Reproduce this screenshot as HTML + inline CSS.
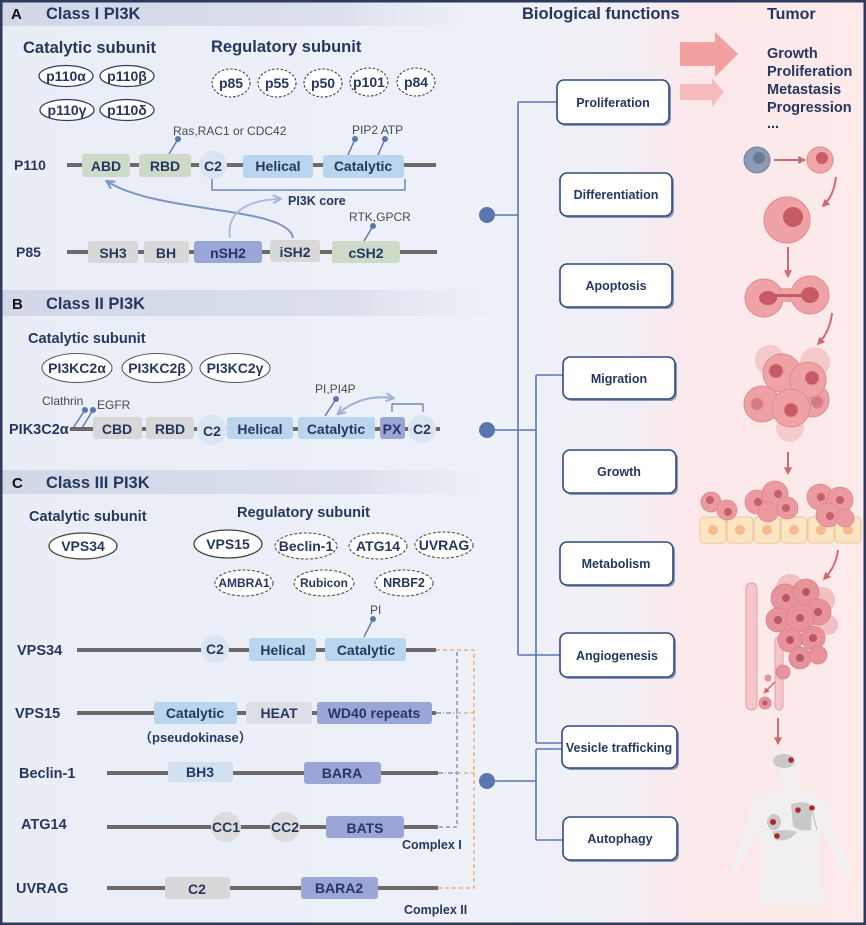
<!DOCTYPE html>
<html><head><meta charset="utf-8">
<style>
html,body{margin:0;padding:0;}
body{width:866px;height:925px;overflow:hidden;background:#eef1f8;}
svg{display:block;}
text{font-family:"Liberation Sans",Arial,sans-serif;}
.t{fill:#26375f;font-weight:bold;}
.bx{font-size:14px;font-weight:bold;fill:#26375f;text-anchor:middle;}
.sm{font-size:12px;fill:#4a4a4a;}
.fn{font-size:12.5px;font-weight:bold;fill:#26375f;text-anchor:middle;}
.bb{stroke:#6d6969;stroke-width:4;}
.pin{stroke:#5a76b0;stroke-width:1.4;}
</style></head><body>
<svg width="866" height="925" viewBox="0 0 866 925" xmlns="http://www.w3.org/2000/svg">
<defs>
<linearGradient id="bg" x1="0" x2="1" y1="0" y2="0">
 <stop offset="0" stop-color="#e9edf6"/>
 <stop offset="0.6" stop-color="#eef1f8"/>
 <stop offset="0.72" stop-color="#f1eff6"/>
 <stop offset="0.80" stop-color="#fbe8ea"/>
 <stop offset="1" stop-color="#fdeaea"/>
</linearGradient>
<linearGradient id="band" x1="0" x2="1" y1="0" y2="0">
 <stop offset="0" stop-color="#d1d7e6"/>
 <stop offset="0.7" stop-color="#dbe0ec"/>
 <stop offset="1" stop-color="#e4e8f2" stop-opacity="0"/>
</linearGradient>
<marker id="mb" viewBox="0 0 10 10" refX="7" refY="5" markerWidth="5" markerHeight="5" orient="auto-start-reverse">
 <path d="M1,1 L9,5 L1,9" fill="none" stroke="#7c95c6" stroke-width="2"/>
</marker>
<marker id="mb2" viewBox="0 0 10 10" refX="7" refY="5" markerWidth="5" markerHeight="5" orient="auto-start-reverse">
 <path d="M1,1 L9,5 L1,9" fill="none" stroke="#9fb3da" stroke-width="2"/>
</marker>
<marker id="mr" viewBox="0 0 10 10" refX="6" refY="5" markerWidth="4" markerHeight="4" orient="auto">
 <path d="M0,0 L10,5 L0,10 z" fill="#cf6a70"/>
</marker>
</defs>

<rect x="0" y="0" width="866" height="925" fill="url(#bg)"/>

<!-- Section bands -->
<rect x="2" y="2" width="480" height="24" fill="url(#band)"/>
<rect x="2" y="290" width="500" height="26" fill="url(#band)"/>
<rect x="2" y="470" width="500" height="24" fill="url(#band)"/>

<!-- ========== A ========== -->
<text x="11" y="19" font-size="15" font-weight="bold" fill="#111">A</text>
<text x="46" y="19" class="t" font-size="16.5">Class I PI3K</text>
<text x="23" y="53" class="t" font-size="16.5">Catalytic subunit</text>
<text x="211" y="52" class="t" font-size="16.5">Regulatory subunit</text>

<g fill="#fff" stroke="#2c3f66" stroke-width="1.3">
 <ellipse cx="66" cy="76" rx="27" ry="10.5"/>
 <ellipse cx="127" cy="76" rx="27" ry="10.5"/>
 <ellipse cx="67" cy="110" rx="27" ry="10.5"/>
 <ellipse cx="127" cy="110" rx="27" ry="10.5"/>
</g>
<text x="66" y="81" class="bx">p110α</text>
<text x="127" y="81" class="bx">p110β</text>
<text x="67" y="115" class="bx">p110γ</text>
<text x="127" y="115" class="bx">p110δ</text>
<g fill="#fff" stroke="#3a3f4a" stroke-width="1.1" stroke-dasharray="2.5 1.8">
 <ellipse cx="231" cy="83" rx="19" ry="14"/>
 <ellipse cx="277" cy="83" rx="19" ry="14"/>
 <ellipse cx="323" cy="83" rx="19" ry="14"/>
 <ellipse cx="369" cy="82" rx="19" ry="14"/>
 <ellipse cx="416" cy="82" rx="19" ry="14"/>
</g>
<text x="231" y="88" class="bx">p85</text>
<text x="277" y="88" class="bx">p55</text>
<text x="323" y="88" class="bx">p50</text>
<text x="369" y="87" class="bx">p101</text>
<text x="416" y="87" class="bx">p84</text>

<!-- P110 row -->
<text x="14" y="170" class="t" font-size="14">P110</text>
<line x1="67" y1="165" x2="436" y2="165" class="bb"/>
<text x="173" y="135" class="sm">Ras,RAC1 or CDC42</text>
<line x1="178" y1="139" x2="169" y2="154" class="pin"/><circle cx="178" cy="139" r="3" fill="#5a76b0"/>
<text x="352" y="134" class="sm">PIP2 ATP</text>
<line x1="355" y1="139" x2="348" y2="155" class="pin"/><circle cx="355" cy="139" r="3" fill="#5a76b0"/>
<line x1="385" y1="139" x2="378" y2="155" class="pin"/><circle cx="385" cy="139" r="3" fill="#5a76b0"/>
<rect x="82" y="154" width="48" height="23" rx="3" fill="#cddac7"/>
<rect x="139" y="154" width="52" height="23" rx="3" fill="#cddac7"/>
<circle cx="213" cy="165" r="14" fill="#dbe4f1"/>
<rect x="243" y="155" width="70" height="23" rx="3" fill="#b9d6ee"/>
<rect x="323" y="155" width="81" height="23" rx="3" fill="#b9d6ee"/>
<text x="106" y="171" class="bx">ABD</text>
<text x="165" y="171" class="bx">RBD</text>
<text x="213" y="171" class="bx">C2</text>
<text x="278" y="171" class="bx">Helical</text>
<text x="363" y="171" class="bx">Catalytic</text>
<path d="M212,179 V190 H405 V179" fill="none" stroke="#5a77b0" stroke-width="1.3"/>
<text x="288" y="205" class="t" font-size="12.5">PI3K core</text>

<!-- arrows A -->
<path d="M293,238 C288,206 160,214 108,182" fill="none" stroke="#7c95c6" stroke-width="2" marker-end="url(#mb)"/>
<path d="M230,238 C226,212 248,200 279,199" fill="none" stroke="#a9bde0" stroke-width="2" marker-end="url(#mb2)"/>

<!-- P85 row -->
<text x="16" y="257" class="t" font-size="14">P85</text>
<line x1="67" y1="252" x2="437" y2="252" class="bb"/>
<text x="349" y="221" class="sm">RTK,GPCR</text>
<line x1="373" y1="226" x2="364" y2="241" class="pin"/><circle cx="373" cy="226" r="3" fill="#5a76b0"/>
<rect x="88" y="241" width="50" height="22" rx="3" fill="#d8d8d8"/>
<rect x="144" y="241" width="45" height="22" rx="3" fill="#d8d8d8"/>
<rect x="194" y="241" width="68" height="22" rx="3" fill="#9aa5d8"/>
<rect x="270" y="240" width="50" height="22" rx="3" fill="#d8d8d8"/>
<rect x="332" y="241" width="68" height="22" rx="3" fill="#cddac7"/>
<text x="113" y="258" class="bx">SH3</text>
<text x="166" y="258" class="bx">BH</text>
<text x="228" y="258" class="bx">nSH2</text>
<text x="295" y="257" class="bx">iSH2</text>
<text x="366" y="258" class="bx">cSH2</text>

<!-- ========== B ========== -->
<text x="12" y="309" font-size="15" font-weight="bold" fill="#111">B</text>
<text x="46" y="309" class="t" font-size="16.5">Class II PI3K</text>
<text x="28" y="343" class="t" font-size="14.6">Catalytic subunit</text>
<g fill="#fff" stroke="#5a5a5a" stroke-width="1.1">
 <ellipse cx="77" cy="368" rx="35" ry="14.5"/>
 <ellipse cx="157" cy="368" rx="35" ry="14.5"/>
 <ellipse cx="235" cy="368" rx="35" ry="14.5"/>
</g>
<text x="77" y="373" class="bx">PI3KC2α</text>
<text x="157" y="373" class="bx">PI3KC2β</text>
<text x="235" y="373" class="bx">PI3KC2γ</text>

<text x="42" y="405" class="sm">Clathrin</text>
<text x="97" y="409" class="sm">EGFR</text>
<line x1="85" y1="410" x2="73" y2="428" class="pin"/><circle cx="85" cy="410" r="3" fill="#5a76b0"/>
<line x1="93" y1="410" x2="82" y2="428" class="pin"/><circle cx="93" cy="410" r="3" fill="#5a76b0"/>
<text x="9" y="434" class="t" font-size="14.5">PIK3C2α</text>
<line x1="70" y1="429" x2="440" y2="429" class="bb"/>
<rect x="93" y="417" width="49" height="22" rx="3" fill="#d8d8d8"/>
<rect x="146" y="417" width="48" height="22" rx="3" fill="#d8d8d8"/>
<circle cx="212" cy="430" r="15" fill="#dbe4f1"/>
<rect x="227" y="417" width="66" height="22" rx="3" fill="#b9d6ee"/>
<rect x="298" y="417" width="77" height="22" rx="3" fill="#b9d6ee"/>
<rect x="380" y="417" width="25" height="22" rx="3" fill="#9aa5d8"/>
<circle cx="422" cy="429" r="14" fill="#dbe4f1"/>
<text x="117" y="434" class="bx">CBD</text>
<text x="170" y="434" class="bx">RBD</text>
<text x="212" y="436" class="bx">C2</text>
<text x="260" y="434" class="bx">Helical</text>
<text x="336" y="434" class="bx">Catalytic</text>
<text x="392" y="434" class="bx">PX</text>
<text x="422" y="434" class="bx">C2</text>
<text x="315" y="393" class="sm">PI,PI4P</text>
<line x1="336" y1="399" x2="325" y2="416" class="pin"/><circle cx="336" cy="399" r="3" fill="#5a76b0"/>
<path d="M339,413 Q362,394 392,398" fill="none" stroke="#9fb0d6" stroke-width="2" marker-start="url(#mb2)" marker-end="url(#mb2)"/>
<path d="M392,412 V404 H423 V412" fill="none" stroke="#5a77b0" stroke-width="1.2"/>

<!-- ========== C ========== -->
<text x="12" y="488" font-size="15" font-weight="bold" fill="#111">C</text>
<text x="46" y="488" class="t" font-size="16.5">Class III PI3K</text>
<text x="29" y="521" class="t" font-size="14.6">Catalytic subunit</text>
<text x="237" y="517" class="t" font-size="14.6">Regulatory subunit</text>
<g fill="#fff" stroke="#3e4a33" stroke-width="1.3">
 <ellipse cx="83" cy="546" rx="34" ry="13"/>
 <ellipse cx="228" cy="544" rx="34" ry="14"/>
</g>
<g fill="#fff" stroke="#4d5540" stroke-width="1.1" stroke-dasharray="3 1.8">
 <ellipse cx="306" cy="546" rx="31" ry="13"/>
 <ellipse cx="378" cy="546" rx="29" ry="13"/>
 <ellipse cx="444" cy="545" rx="29" ry="13"/>
 <ellipse cx="244" cy="583" rx="29" ry="13"/>
 <ellipse cx="324" cy="583" rx="30" ry="13"/>
 <ellipse cx="404" cy="583" rx="29" ry="13"/>
</g>
<text x="83" y="551" class="bx">VPS34</text>
<text x="228" y="549" class="bx">VPS15</text>
<text x="306" y="551" class="bx">Beclin-1</text>
<text x="378" y="551" class="bx">ATG14</text>
<text x="444" y="550" class="bx">UVRAG</text>
<text x="244" y="587" class="bx" style="font-size:12px">AMBRA1</text>
<text x="324" y="587" class="bx" style="font-size:12px">Rubicon</text>
<text x="404" y="587" class="bx" style="font-size:12.5px">NRBF2</text>

<!-- dashed complex lines -->
<g fill="none" stroke-width="1.3">
 <path d="M457,652 V827 H438" stroke="#6f8aa8" stroke-dasharray="4 3"/>
 <path d="M436,713 H457 M438,773 H457" stroke="#6f8aa8" stroke-dasharray="5 2 1 2"/>
 <path d="M436,650 H474 V888 H438" stroke="#f0a45c" stroke-dasharray="4 3"/>
 <path d="M457,713 H474 M457,773 H474" stroke="#f0a45c" stroke-dasharray="4 3"/>
</g>

<!-- VPS34 -->
<text x="370" y="614" class="sm">PI</text>
<line x1="373" y1="619" x2="364" y2="637" class="pin"/><circle cx="373" cy="619" r="3" fill="#5a76b0"/>
<text x="17" y="655" class="t" font-size="14.5">VPS34</text>
<line x1="77" y1="650" x2="436" y2="650" class="bb"/>
<circle cx="215" cy="649" r="14" fill="#dbe4f1"/>
<rect x="249" y="638" width="67" height="23" rx="3" fill="#b9d6ee"/>
<rect x="325" y="638" width="81" height="23" rx="3" fill="#b9d6ee"/>
<text x="215" y="654" class="bx">C2</text>
<text x="283" y="655" class="bx">Helical</text>
<text x="366" y="655" class="bx">Catalytic</text>

<!-- VPS15 -->
<text x="15" y="718" class="t" font-size="14.5">VPS15</text>
<line x1="77" y1="713" x2="436" y2="713" class="bb"/>
<rect x="154" y="702" width="83" height="22" rx="3" fill="#b9d6ee"/>
<rect x="246" y="702" width="66" height="22" rx="3" fill="#dcdfe6"/>
<rect x="317" y="702" width="115" height="22" rx="3" fill="#9aa5d8"/>
<text x="195" y="718" class="bx">Catalytic</text>
<text x="279" y="718" class="bx">HEAT</text>
<text x="374" y="718" class="bx">WD40 repeats</text>
<text x="139" y="742" class="t" font-size="13" style="font-family:'Liberation Sans','Noto Sans CJK SC',sans-serif">（pseudokinase）</text>

<!-- Beclin-1 -->
<text x="19" y="778" class="t" font-size="14.5">Beclin-1</text>
<line x1="107" y1="773" x2="438" y2="773" class="bb"/>
<rect x="168" y="762" width="65" height="20" rx="3" fill="#d3e0f1"/>
<rect x="304" y="762" width="77" height="22" rx="3" fill="#9aa5d8"/>
<text x="200" y="777" class="bx">BH3</text>
<text x="342" y="778" class="bx">BARA</text>

<!-- ATG14 -->
<text x="21" y="829" class="t" font-size="14.5">ATG14</text>
<line x1="107" y1="827" x2="438" y2="827" class="bb"/>
<circle cx="226" cy="827" r="15" fill="#dcdcdc"/>
<circle cx="285" cy="827" r="15" fill="#dcdcdc"/>
<rect x="326" y="816" width="78" height="22" rx="3" fill="#9aa5d8"/>
<text x="226" y="832" class="bx">CC1</text>
<text x="285" y="832" class="bx">CC2</text>
<text x="365" y="833" class="bx">BATS</text>
<text x="402" y="849" class="t" font-size="12.5">Complex I</text>

<!-- UVRAG -->
<text x="16" y="893" class="t" font-size="14.5">UVRAG</text>
<line x1="107" y1="888" x2="438" y2="888" class="bb"/>
<rect x="165" y="877" width="65" height="22" rx="3" fill="#d8d8d8"/>
<rect x="301" y="877" width="77" height="22" rx="3" fill="#9aa5d8"/>
<text x="197" y="894" class="bx">C2</text>
<text x="339" y="893" class="bx">BARA2</text>
<text x="404" y="914" class="t" font-size="12.5">Complex II</text>

<!-- ========== Biological functions ========== -->
<text x="522" y="19" class="t" font-size="16.5">Biological functions</text>
<g fill="none" stroke="#5a78b3" stroke-width="1.6">
 <path d="M487,215 H518 M518,102 V655 M518,102 H557 M518,655 H560"/>
 <path d="M487,430 H536 M536,375 V743 M536,375 H563 M536,743 H562"/>
 <path d="M487,781 H536 M536,749 V840 M536,749 H562 M536,840 H563"/>
</g>
<circle cx="487" cy="215" r="8" fill="#5a76b1"/>
<circle cx="487" cy="430" r="8" fill="#5a76b1"/>
<circle cx="487" cy="781" r="8" fill="#5a76b1"/>

<g stroke="#2f4a80" stroke-width="1.6">
 <g fill="#8a97b6" stroke="none">
  <rect x="559" y="82" width="112" height="44" rx="7"/>
  <rect x="562" y="175" width="112" height="43" rx="7"/>
  <rect x="562" y="266" width="112" height="43" rx="7"/>
  <rect x="565" y="359" width="112" height="42" rx="7"/>
  <rect x="565" y="452" width="113" height="43" rx="7"/>
  <rect x="562" y="544" width="113" height="43" rx="7"/>
  <rect x="562" y="635" width="114" height="44" rx="7"/>
  <rect x="564" y="728" width="115" height="42" rx="7"/>
  <rect x="565" y="819" width="114" height="43" rx="7"/>
 </g>
 <g fill="#fff">
  <rect x="557" y="80" width="112" height="44" rx="7"/>
  <rect x="560" y="173" width="112" height="43" rx="7"/>
  <rect x="560" y="264" width="112" height="43" rx="7"/>
  <rect x="563" y="357" width="112" height="42" rx="7"/>
  <rect x="563" y="450" width="113" height="43" rx="7"/>
  <rect x="560" y="542" width="113" height="43" rx="7"/>
  <rect x="560" y="633" width="114" height="44" rx="7"/>
  <rect x="562" y="726" width="115" height="42" rx="7"/>
  <rect x="563" y="817" width="114" height="43" rx="7"/>
 </g>
</g>
<text x="613" y="107" class="fn">Proliferation</text>
<text x="616" y="199" class="fn">Differentiation</text>
<text x="616" y="290" class="fn">Apoptosis</text>
<text x="619" y="383" class="fn">Migration</text>
<text x="619" y="476" class="fn">Growth</text>
<text x="616" y="568" class="fn">Metabolism</text>
<text x="617" y="660" class="fn">Angiogenesis</text>
<text x="619" y="752" class="fn">Vesicle trafficking</text>
<text x="620" y="843" class="fn">Autophagy</text>

<!-- ========== Tumor ========== -->
<text x="767" y="19" class="t" font-size="16">Tumor</text>
<polygon points="680,42 715,42 715,32 738,54 715,77 715,66 680,66" fill="#f3a0a1"/>
<polygon points="680,84 712,84 712,78 724,92 712,107 712,100 680,100" fill="#f6bcbd"/>
<g class="t" font-size="14.5">
 <text x="767" y="58">Growth</text>
 <text x="767" y="76">Proliferation</text>
 <text x="767" y="94">Metastasis</text>
 <text x="767" y="112">Progression</text>
 <text x="767" y="128">...</text>
</g>

<!-- cells -->
<g stroke-width="1">
 <circle cx="757" cy="160" r="13" fill="#8c9cb6" stroke="#71819c"/>
 <circle cx="759" cy="158" r="6" fill="#6a7b96"/>
 <circle cx="820" cy="160" r="13" fill="#f0a5a8" stroke="#de8a8f"/>
 <circle cx="822" cy="158" r="6" fill="#c85c68"/>
 <circle cx="787" cy="220" r="23" fill="#efa3a6" stroke="#de8a8f"/>
 <circle cx="793" cy="217" r="10" fill="#c65b66"/>
 <!-- dividing cells -->
 <rect x="778" y="288" width="18" height="14" fill="#efa3a6"/>
 <circle cx="764" cy="298" r="19" fill="#efa3a6" stroke="#de8a8f"/>
 <circle cx="810" cy="295" r="19" fill="#efa3a6" stroke="#de8a8f"/>
 <rect x="776" y="291" width="22" height="10" fill="#efa3a6"/>
 <ellipse cx="768" cy="298" rx="9" ry="7" fill="#c65b66"/>
 <ellipse cx="810" cy="295" rx="9" ry="8" fill="#c65b66"/>
 <rect x="772" y="294" width="32" height="3" fill="#c65b66"/>
</g>
<!-- cluster -->
<g stroke="#de8a8f" stroke-width="1">
 <circle cx="770" cy="360" r="15" fill="#f6c9cb" stroke="none"/>
 <circle cx="815" cy="362" r="15" fill="#f6c9cb" stroke="none"/>
 <circle cx="790" cy="428" r="14" fill="#f6c9cb" stroke="none"/>
 <circle cx="762" cy="404" r="18" fill="#eea1a5"/>
 <circle cx="812" cy="400" r="17" fill="#eea1a5"/>
 <circle cx="782" cy="373" r="19" fill="#efa3a6"/>
 <circle cx="808" cy="380" r="18" fill="#efa3a6"/>
 <circle cx="791" cy="408" r="19" fill="#efa3a6"/>
 <circle cx="776" cy="371" r="7" fill="#c65b66"/>
 <circle cx="812" cy="378" r="7" fill="#c65b66"/>
 <circle cx="791" cy="410" r="7" fill="#c65b66"/>
 <circle cx="757" cy="404" r="6" fill="#d47b85"/>
 <circle cx="817" cy="402" r="6" fill="#d47b85"/>
</g>
<!-- epithelium -->
<g fill="#fbe5c3" stroke="#e8c896" stroke-width="1">
 <rect x="700" y="517" width="26" height="26" rx="4"/>
 <rect x="727" y="517" width="26" height="26" rx="4"/>
 <rect x="754" y="517" width="26" height="26" rx="4"/>
 <rect x="781" y="517" width="26" height="26" rx="4"/>
 <rect x="808" y="517" width="26" height="26" rx="4"/>
 <rect x="835" y="517" width="26" height="26" rx="4"/>
</g>
<g fill="#f6bb8e">
 <circle cx="713" cy="530" r="5"/><circle cx="740" cy="530" r="5"/><circle cx="767" cy="530" r="5"/>
 <circle cx="794" cy="530" r="5"/><circle cx="821" cy="530" r="5"/><circle cx="848" cy="530" r="5"/>
</g>
<g fill="#eb9aa0" stroke="#dc8890" stroke-width="0.8">
 <circle cx="711" cy="502" r="10"/><circle cx="727" cy="510" r="10"/>
 <circle cx="757" cy="502" r="12"/><circle cx="775" cy="494" r="13"/><circle cx="787" cy="508" r="11"/><circle cx="768" cy="512" r="10"/>
 <circle cx="820" cy="497" r="13"/><circle cx="840" cy="500" r="13"/><circle cx="828" cy="515" r="12"/><circle cx="845" cy="518" r="9"/>
</g>
<g fill="#c36070">
 <circle cx="710" cy="500" r="4"/><circle cx="728" cy="512" r="4"/><circle cx="758" cy="502" r="4"/><circle cx="778" cy="494" r="4"/>
 <circle cx="786" cy="508" r="4"/><circle cx="821" cy="497" r="4"/><circle cx="840" cy="500" r="4"/><circle cx="830" cy="516" r="4"/>
</g>
<!-- vessel + mass -->
<rect x="746" y="583" width="11" height="127" rx="5" fill="#f4c6ca" stroke="#e3a0a8"/>
<rect x="775" y="637" width="8" height="73" rx="4" fill="#f4c6ca" stroke="#e3a0a8"/>
<g fill="#f3bfc3" stroke="none">
 <circle cx="790" cy="588" r="14"/><circle cx="822" cy="600" r="13"/><circle cx="828" cy="625" r="10"/>
</g>
<g fill="#e8939b" stroke="#d8818a" stroke-width="0.8">
 <circle cx="785" cy="598" r="14"/><circle cx="806" cy="592" r="13"/><circle cx="818" cy="612" r="13"/>
 <circle cx="778" cy="620" r="12"/><circle cx="800" cy="618" r="14"/><circle cx="790" cy="640" r="12"/>
 <circle cx="813" cy="638" r="12"/><circle cx="800" cy="658" r="11"/><circle cx="818" cy="655" r="9"/>
 <circle cx="783" cy="672" r="7"/><circle cx="765" cy="703" r="6"/><circle cx="768" cy="678" r="3"/>
</g>
<g fill="#b9566a">
 <circle cx="786" cy="598" r="4"/><circle cx="806" cy="592" r="4"/><circle cx="818" cy="612" r="4"/><circle cx="778" cy="620" r="4"/>
 <circle cx="800" cy="618" r="4"/><circle cx="790" cy="640" r="4"/><circle cx="813" cy="638" r="4"/><circle cx="800" cy="658" r="4"/>
 <circle cx="765" cy="703" r="2.5"/>
</g>
<!-- red arrows -->
<g fill="none" stroke="#cf6a70" stroke-width="2">
 <path d="M774,160 H803" marker-end="url(#mr)"/>
 <path d="M836,177 Q834,195 824,205" marker-end="url(#mr)"/>
 <path d="M788,247 V275" marker-end="url(#mr)"/>
 <path d="M832,313 Q830,331 819,343" marker-end="url(#mr)"/>
 <path d="M788,452 V472" marker-end="url(#mr)"/>
 <path d="M838,550 Q836,566 825,578" marker-end="url(#mr)"/>
 <path d="M775,682 L765,692" stroke-width="1.5" marker-end="url(#mr)"/>
 <path d="M778,718 V742" marker-end="url(#mr)"/>
</g>
<!-- human body -->
<g fill="#f1efef">
 <ellipse cx="790" cy="767" rx="12" ry="14"/>
 <path d="M783,779 L797,779 L798,790 Q822,794 828,806 L838,840 L850,872 L843,874 L828,842 L820,822 L818,860 L822,905 L758,905 L762,860 L760,822 L752,842 L737,874 L730,872 L742,840 L752,806 Q758,794 782,790 Z"/>
</g>
<g fill="#c9c9c9">
 <ellipse cx="784" cy="761" rx="11" ry="7"/>
 <path d="M791,804 Q806,800 812,806 L811,830 Q800,832 793,826 Z"/>
 <ellipse cx="774" cy="822" rx="7" ry="8"/>
 <path d="M772,832 Q785,828 797,832 Q790,842 776,840 Z"/>
</g>
<g fill="#b3262d">
 <circle cx="791" cy="760" r="2.8"/>
 <circle cx="798" cy="810" r="2.8"/>
 <circle cx="812" cy="808" r="2.8"/>
 <circle cx="773" cy="822" r="3"/>
 <circle cx="777" cy="836" r="2.8"/>
</g>
<line x1="812" y1="810" x2="817" y2="830" stroke="#c9c9c9" stroke-width="1.5"/>

<!-- frame -->
<rect x="1.25" y="1.25" width="863.5" height="922.5" fill="none" stroke="#2d3a5c" stroke-width="2.5"/>
</svg>
</body></html>
